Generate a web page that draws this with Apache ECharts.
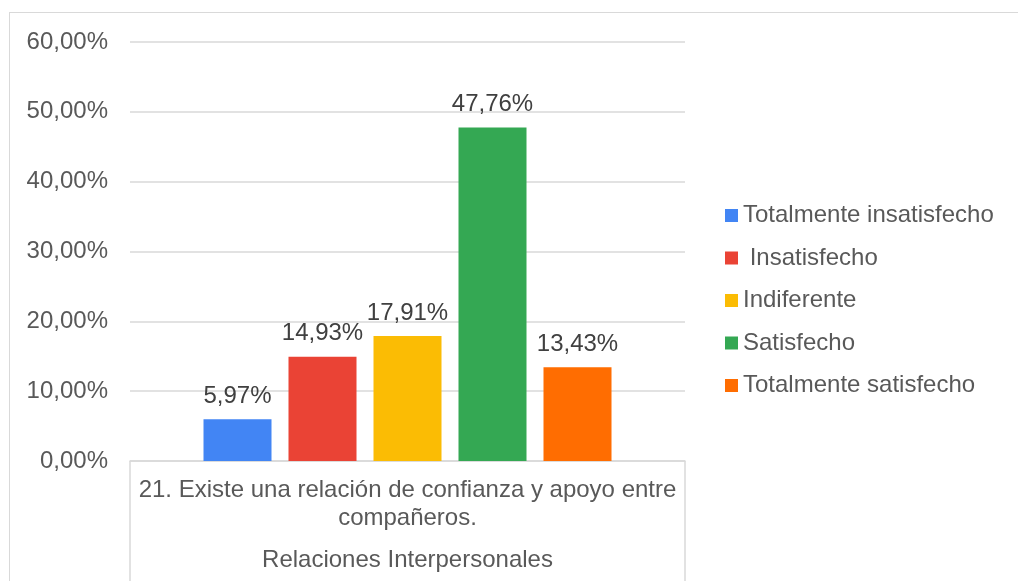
<!DOCTYPE html>
<html>
<head>
<meta charset="utf-8">
<script src="https://cdn.jsdelivr.net/npm/echarts@6/dist/echarts.min.js"></script>
<style>
html,body{margin:0;padding:0;background:#fff;overflow:hidden;}
#frame{position:absolute;left:9px;top:12px;width:1100px;height:700px;border-left:1.5px solid #d9d9d9;border-top:1.5px solid #d9d9d9;}
#chart{position:absolute;left:0;top:0;width:1018px;height:581px;}
</style>
</head>
<body>
<div id="frame"></div>
<div id="chart"></div>
<script>
const categories = ['21. Existe una relación de confianza y apoyo entre\ncompañeros.'];
const groupLabel = 'Relaciones Interpersonales';
const seriesNames = ['Totalmente insatisfecho', ' Insatisfecho', 'Indiferente', 'Satisfecho', 'Totalmente satisfecho'];
const seriesValues = [5.97, 14.93, 17.91, 47.76, 13.43];
const seriesColors = ['#4285F4', '#EA4335', '#FBBC04', '#34A853', '#FF6D01'];
const yMin = 0, yMax = 60, yInterval = 10;

const FONT = '"Liberation Sans", Arial, sans-serif';
const fmt = v => v.toFixed(2).replace('.', ',') + '%';

const chart = echarts.init(document.getElementById('chart'), null, {renderer: 'canvas'});
chart.setOption({
  animation: false,
  backgroundColor: 'transparent',
  textStyle: {fontFamily: FONT},
  grid: {left: 130, right: 333, top: 42, bottom: 120, containLabel: false},
  legend: {
    orient: 'vertical',
    left: 725,
    top: 203.5,
    padding: 0,
    icon: 'rect',
    itemWidth: 13,
    itemHeight: 13,
    itemGap: 18.5,
    data: seriesNames,
    textStyle: {fontFamily: FONT, fontSize: 24, color: '#595959', lineHeight: 24}
  },
  xAxis: {
    type: 'category',
    data: categories,
    boundaryGap: true,
    axisLine: {lineStyle: {color: '#d9d9d9', width: 1.5}},
    axisTick: {show: true, length: 121, lineStyle: {color: '#d9d9d9', width: 1.5}},
    axisLabel: {fontFamily: FONT, fontSize: 24, color: '#595959', lineHeight: 28, margin: 15, align: 'center'},
    name: groupLabel,
    nameLocation: 'middle',
    nameGap: 87,
    nameTextStyle: {fontFamily: FONT, fontSize: 24, color: '#595959', lineHeight: 24}
  },
  yAxis: {
    type: 'value',
    min: yMin, max: yMax, interval: yInterval,
    axisLine: {show: false},
    axisTick: {show: false},
    splitLine: {lineStyle: {color: '#d9d9d9', width: 1.5}},
    axisLabel: {fontFamily: FONT, fontSize: 24, color: '#595959', margin: 22, formatter: v => fmt(v)}
  },
  series: seriesNames.map((name, i) => ({
    name: name,
    type: 'bar',
    barWidth: 68,
    barGap: '25%',
    itemStyle: {color: seriesColors[i]},
    label: {
      show: true, position: 'top', distance: 11,
      fontFamily: FONT, fontSize: 24, color: '#404040',
      formatter: p => fmt(p.value)
    },
    data: [seriesValues[i]]
  }))
});
</script>
</body>
</html>
